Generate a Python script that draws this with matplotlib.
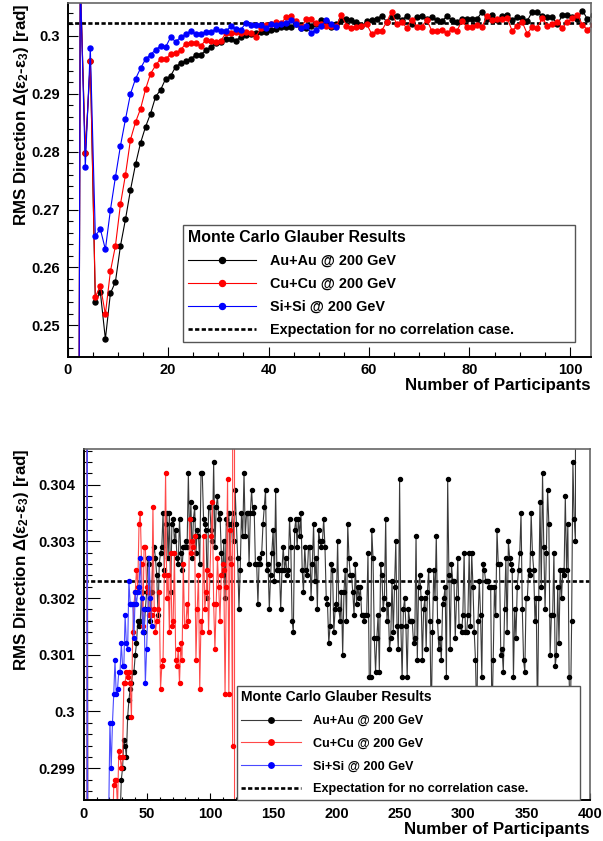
import numpy as np
import matplotlib
matplotlib.use("Agg")
import matplotlib.pyplot as plt
from matplotlib.ticker import MultipleLocator, FuncFormatter

plt.rcParams.update({
    "font.family": ["Liberation Sans", "DejaVu Sans"],
    "font.weight": "bold",
    "mathtext.fontset": "custom",
    "mathtext.rm": "Liberation Sans:bold",
    "mathtext.it": "Liberation Sans:bold",
    "mathtext.bf": "Liberation Sans:bold",
})

N_FIRST = 1.5        # centre of first Npart bin
EXPECT = 0.3023      # flat (no correlation) expectation

# RMS of direction difference per Npart bin
AUAU = [
    0.0, 0.31, 0.2797, 0.2957, 0.2540, 0.2557, 0.2476, 0.2555, 0.2575, 0.2637,
    0.2683, 0.2734, 0.2778, 0.2815, 0.2843, 0.2866, 0.2895, 0.2907, 0.2926, 0.2931,
    0.2947, 0.2953, 0.2956, 0.2961, 0.2967, 0.2968, 0.2975, 0.2981, 0.2988, 0.2990,
    0.2995, 0.2994, 0.2992, 0.2999, 0.3002, 0.3004, 0.3005, 0.3007, 0.3007, 0.3010,
    0.3012, 0.3016, 0.3015, 0.3016, 0.3021, 0.3014, 0.3014, 0.3018, 0.3021, 0.3027,
    0.3026, 0.3016, 0.3021, 0.3027, 0.3029, 0.3027, 0.3024, 0.3017, 0.3026, 0.3028,
    0.3029, 0.3035, 0.3025, 0.3033, 0.3035, 0.3027, 0.3035, 0.3021, 0.3033, 0.3034,
    0.3030, 0.3032, 0.3027, 0.3026, 0.3034, 0.3028, 0.3025, 0.3029, 0.3029, 0.3030,
    0.3029, 0.3042, 0.3030, 0.3037, 0.3027, 0.3034, 0.3036, 0.3028, 0.3032, 0.3031,
    0.3026, 0.3042, 0.3042, 0.3034, 0.3033, 0.3032, 0.3020, 0.3036, 0.3036, 0.3032,
    0.3030, 0.3044, 0.3029, 0.3036, 0.3038, 0.3034, 0.3035, 0.3028, 0.3024, 0.3030,
    0.3020, 0.3034, 0.3033, 0.3035, 0.3027, 0.3033, 0.3035, 0.3030, 0.3039, 0.3033,
    0.3027, 0.3018, 0.3025, 0.3035, 0.3031, 0.3042, 0.3031, 0.3035, 0.3035, 0.3026,
    0.3035, 0.3039, 0.3035, 0.3036, 0.3026, 0.3026, 0.3019, 0.3027, 0.3026, 0.3028,
    0.3033, 0.3036, 0.3039, 0.3025, 0.3026, 0.3018, 0.3024, 0.3028, 0.3032, 0.3023,
    0.3039, 0.3025, 0.3026, 0.3025, 0.3018, 0.3025, 0.3029, 0.3025, 0.3027, 0.3024,
    0.3025, 0.3034, 0.3029, 0.3016, 0.3014, 0.3032, 0.3034, 0.3029, 0.3034, 0.3031,
    0.3035, 0.3025, 0.3021, 0.3029, 0.3025, 0.3024, 0.3029, 0.3029, 0.3020, 0.3026,
    0.3033, 0.3023, 0.3027, 0.3018, 0.3032, 0.3030, 0.3029, 0.3030, 0.3034, 0.3029,
    0.3020, 0.3019, 0.3012, 0.3015, 0.3026, 0.3025, 0.3014, 0.3018, 0.3019, 0.3030,
    0.3018, 0.3016, 0.3021, 0.3010, 0.3021, 0.3025, 0.3016, 0.3033, 0.3027, 0.3024,
    0.3024, 0.3021, 0.3017, 0.3026, 0.3019, 0.3022, 0.3020, 0.3022, 0.3017, 0.3017,
    0.3016, 0.3017, 0.3017, 0.3028, 0.3006, 0.3006, 0.3032, 0.3027, 0.3013, 0.3007,
    0.3013, 0.3017, 0.3007, 0.3026, 0.3024, 0.3018, 0.3020, 0.3034, 0.3016, 0.3019,
    0.3011, 0.3013, 0.3023, 0.3014, 0.3022, 0.3030, 0.3015, 0.3011, 0.3041, 0.3015,
    0.3006, 0.3018, 0.3020, 0.3015, 0.3006, 0.3018, 0.3016, 0.3016, 0.3016, 0.3012,
    0.3013, 0.3031, 0.3009, 0.3022, 0.3024, 0.3020, 0.3009, 0.3018, 0.3020, 0.3011,
    0.3021, 0.3025, 0.3016, 0.2998, 0.3014, 0.3025, 0.3020, 0.3031, 0.3016, 0.3011,
    0.3013, 0.3009, 0.3019, 0.3020, 0.3022, 0.3006, 0.3041, 0.3024, 0.3011, 0.3026,
    0.3023, 0.3023, 0.3013, 0.3020, 0.3027, 0.3015, 0.3015, 0.3014, 0.3017, 0.3028,
    0.3014, 0.3014, 0.3017, 0.3028, 0.3015, 0.3028, 0.3022, 0.3014, 0.3009, 0.2998,
    0.3016, 0.3023, 0.3017, 0.3006, 0.3026, 0.3025, 0.3023, 0.3023, 0.3023, 0.3022,
    0.3022, 0.2998, 0.3009, 0.3022, 0.3017, 0.3032, 0.3026, 0.3026, 0.3010, 0.3011,
    0.3007, 0.3018, 0.3027, 0.3014, 0.3030, 0.3027, 0.3026, 0.3025, 0.3006, 0.3018,
    0.3013, 0.3022, 0.3025, 0.3028, 0.3035, 0.3018, 0.3009, 0.3007, 0.3020, 0.3020,
    0.3025, 0.3024, 0.3035, 0.3028, 0.3025, 0.3016, 0.3020, 0.2998, 0.3020, 0.3037,
    0.3022, 0.3042, 0.3029, 0.3018, 0.3028, 0.3039, 0.3033, 0.3010, 0.3017, 0.3017,
    0.3028, 0.3008, 0.3010, 0.3022, 0.3012, 0.3025, 0.3020, 0.3025, 0.3024, 0.3038,
    0.3025, 0.3033, 0.3006, 0.2998, 0.3016, 0.3044, 0.3034, 0.3030, 0.3600,
]
CUCU = [
    0.0, 0.31, 0.2797, 0.2957, 0.2549, 0.2568, 0.2519, 0.2593, 0.2637, 0.2709,
    0.2760, 0.2821, 0.2851, 0.2874, 0.2908, 0.2935, 0.2949, 0.2961, 0.2960, 0.2969,
    0.2971, 0.2976, 0.2987, 0.2988, 0.2988, 0.2983, 0.2993, 0.2992, 0.2990, 0.2992,
    0.3005, 0.3005, 0.3007, 0.3006, 0.3007, 0.3005, 0.2999, 0.3014, 0.3019, 0.3021,
    0.3025, 0.3022, 0.3033, 0.3035, 0.3026, 0.3015, 0.3029, 0.3029, 0.3022, 0.3021,
    0.3017, 0.3018, 0.3017, 0.3036, 0.3018, 0.3014, 0.3016, 0.3018, 0.3021, 0.3004,
    0.3008, 0.3009, 0.3024, 0.3042, 0.3020, 0.3024, 0.3014, 0.3028, 0.3015, 0.3016,
    0.3028, 0.3009, 0.3008, 0.3011, 0.3005, 0.3012, 0.3009, 0.3026, 0.3015, 0.3015,
    0.3019, 0.3016, 0.3034, 0.3028, 0.3030, 0.3029, 0.3031, 0.3009, 0.3018, 0.3024,
    0.3004, 0.3016, 0.3014, 0.3031, 0.3018, 0.3021, 0.3025, 0.3014, 0.3024, 0.3031,
    0.3037, 0.3019, 0.3011, 0.3019, 0.3027, 0.3022, 0.3016, 0.3024, 0.3026, 0.3025,
    0.3003, 0.3022, 0.3041, 0.3003, 0.3032, 0.3026, 0.2994, 0.6000, 0.0000,
]
SISI = [
    0.0, 0.31, 0.2773, 0.2980, 0.2655, 0.2666, 0.2631, 0.2699, 0.2756, 0.2810,
    0.2856, 0.2900, 0.2926, 0.2944, 0.2960, 0.2968, 0.2976, 0.2983, 0.2981, 0.2998,
    0.2990, 0.2998, 0.3003, 0.3009, 0.3003, 0.3004, 0.3007, 0.3007, 0.3012, 0.3008,
    0.3008, 0.3017, 0.3012, 0.3011, 0.3023, 0.3019, 0.3019, 0.3019, 0.3013, 0.3021,
    0.3019, 0.3021, 0.3022, 0.3027, 0.3020, 0.3014, 0.3018, 0.3005, 0.3011, 0.3018,
    0.3027, 0.3020, 0.3015,
]

SERIES = [AUAU, CUCU, SISI]
LABELS = ["Au+Au @ 200 GeV", "Cu+Cu @ 200 GeV", "Si+Si @ 200 GeV"]
COLORS = ["black", "#ff0000", "#0000ff"]
LIGHT = ["#3a3a3a", "#ff4a4a", "#4a4aff"]
EXPECT_LABEL = "Expectation for no correlation case."
LEG_TITLE = "Monte Carlo Glauber Results"
YLABEL = "RMS Direction Δ(ε$_{2}$-ε$_{3}$) [rad]"
XLABEL = "Number of Participants"

fmt = FuncFormatter(lambda v, p: ("%.4f" % v).rstrip("0").rstrip("."))


def panel(ax, xlim, ylim, xmaj, xmin, ymaj, ymin, lcols, lw, ms, ytick, xtick,
          ylab_x, xlab_y, leg_anchor, leg_fs, leg_tfs, leg_sp, mscale, ypad, xpad):
    hexp = ax.axhline(EXPECT, color="black", lw=1.9, ls=(0, (1.6, 0.9)), zorder=1)
    hs = []
    for vals, c, lc in zip(SERIES, COLORS, lcols):
        x = N_FIRST + np.arange(len(vals))
        h, = ax.plot(x, vals, "-o", color=lc, mfc=c, mec=c, lw=lw, ms=ms, zorder=2)
        hs.append(h)
    ax.set_xlim(*xlim); ax.set_ylim(*ylim)
    ax.xaxis.set_major_locator(MultipleLocator(xmaj)); ax.xaxis.set_minor_locator(MultipleLocator(xmin))
    ax.yaxis.set_major_locator(MultipleLocator(ymaj)); ax.yaxis.set_minor_locator(MultipleLocator(ymin))
    ax.yaxis.set_major_formatter(fmt)
    ax.tick_params(which="both", direction="in", top=False, right=False, width=0.8, labelsize=10.5)
    ax.tick_params(axis="y", which="major", length=ytick[0], pad=ypad)
    ax.tick_params(axis="y", which="minor", length=ytick[1])
    ax.tick_params(axis="x", which="major", length=xtick[0], pad=xpad)
    ax.tick_params(axis="x", which="minor", length=xtick[1])
    for s in ("top", "right"):
        ax.spines[s].set_color("#666666"); ax.spines[s].set_linewidth(1.2)
    for s in ("left", "bottom"):
        ax.spines[s].set_color("black"); ax.spines[s].set_linewidth(1.4)
    ax.set_ylabel(YLABEL, loc="top", fontsize=12.2, fontweight="bold")
    ax.yaxis.set_label_coords(ylab_x, 1.0)
    ax.set_xlabel(XLABEL, loc="right", fontsize=12.2, fontweight="bold")
    ax.xaxis.set_label_coords(1.0, xlab_y)
    leg = ax.legend(hs + [hexp], LABELS + [EXPECT_LABEL], title=LEG_TITLE,
                    loc="upper left", bbox_to_anchor=leg_anchor, mode="expand", borderaxespad=0,
                    fontsize=leg_fs, title_fontsize=leg_tfs, alignment="left",
                    handlelength=4.7, handletextpad=1.0, labelspacing=leg_sp, borderpad=0.35,
                    markerscale=mscale, numpoints=1, fancybox=False, framealpha=1,
                    edgecolor="#555555")
    leg.get_frame().set_linewidth(1.0)
    leg.get_title().set_fontweight("bold")


fig = plt.figure(figsize=(6.03, 8.41), dpi=100)
ax1 = fig.add_axes([0.1123, 0.5755, 0.8678, 0.4209])
ax2 = fig.add_axes([0.1393, 0.0488, 0.8391, 0.4174])

panel(ax1, (0, 104.2), (0.2445, 0.3057), 20, 5, 0.01, 0.002, COLORS, 0.8, 3.6,
      (7, 3.6), (7, 3.6), -0.070, -0.059, (0.2203, 0, 0.749, 0.3729),
      10.4, 11.4, 0.62, 1.2, 5.5, 4.3)
panel(ax2, (0, 400), (0.29844, 0.30463), 50, 10, 0.001, 0.0002, LIGHT, 0.8, 2.9,
      (11.5, 5.5), (5, 2.5), -0.105, -0.064, (0.3024, 0, 0.678, 0.3248),
      9.1, 10.0, 0.85, 1.35, 6.5, 5.0)

fig.savefig("out.png", dpi=100)
